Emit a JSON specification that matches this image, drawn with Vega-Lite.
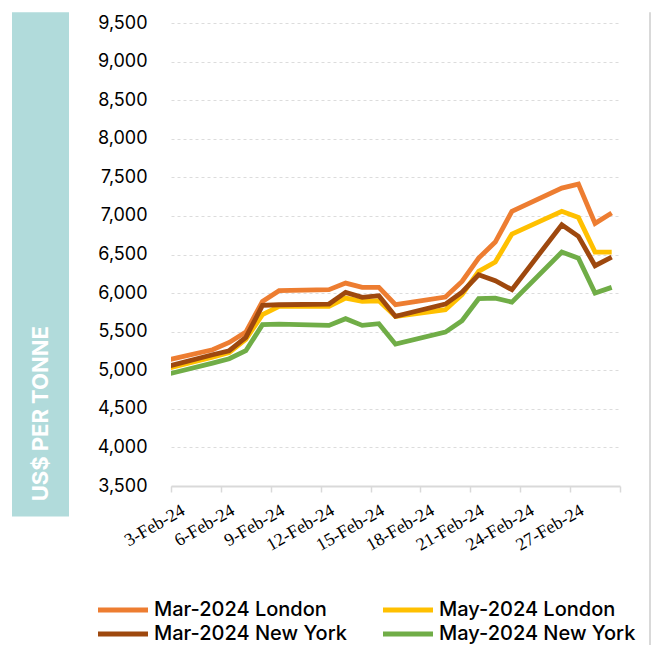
{
  "$schema": "https://vega.github.io/schema/vega-lite/v6.json",
  "padding": {"left": 12, "top": 11, "right": 0, "bottom": 0},
  "background": "white",
  "config": {"view": {"stroke": null}, "font": "Inter"},
  "datasets": {
    "prices": [
      {"date": "2024-02-02", "series": "Mar-2024 London", "price": 5119},
      {"date": "2024-02-05", "series": "Mar-2024 London", "price": 5266},
      {"date": "2024-02-06", "series": "Mar-2024 London", "price": 5360},
      {"date": "2024-02-07", "series": "Mar-2024 London", "price": 5494},
      {"date": "2024-02-08", "series": "Mar-2024 London", "price": 5892},
      {"date": "2024-02-09", "series": "Mar-2024 London", "price": 6031},
      {"date": "2024-02-12", "series": "Mar-2024 London", "price": 6044},
      {"date": "2024-02-13", "series": "Mar-2024 London", "price": 6129},
      {"date": "2024-02-14", "series": "Mar-2024 London", "price": 6074},
      {"date": "2024-02-15", "series": "Mar-2024 London", "price": 6074},
      {"date": "2024-02-16", "series": "Mar-2024 London", "price": 5849},
      {"date": "2024-02-19", "series": "Mar-2024 London", "price": 5948},
      {"date": "2024-02-20", "series": "Mar-2024 London", "price": 6151},
      {"date": "2024-02-21", "series": "Mar-2024 London", "price": 6453},
      {"date": "2024-02-22", "series": "Mar-2024 London", "price": 6661},
      {"date": "2024-02-23", "series": "Mar-2024 London", "price": 7059},
      {"date": "2024-02-26", "series": "Mar-2024 London", "price": 7361},
      {"date": "2024-02-27", "series": "Mar-2024 London", "price": 7413},
      {"date": "2024-02-28", "series": "Mar-2024 London", "price": 6903},
      {"date": "2024-02-29", "series": "Mar-2024 London", "price": 7037},
      {"date": "2024-02-02", "series": "May-2024 London", "price": 5010},
      {"date": "2024-02-05", "series": "May-2024 London", "price": 5170},
      {"date": "2024-02-06", "series": "May-2024 London", "price": 5230},
      {"date": "2024-02-07", "series": "May-2024 London", "price": 5400},
      {"date": "2024-02-08", "series": "May-2024 London", "price": 5720},
      {"date": "2024-02-09", "series": "May-2024 London", "price": 5827},
      {"date": "2024-02-12", "series": "May-2024 London", "price": 5827},
      {"date": "2024-02-13", "series": "May-2024 London", "price": 5935},
      {"date": "2024-02-14", "series": "May-2024 London", "price": 5892},
      {"date": "2024-02-15", "series": "May-2024 London", "price": 5900},
      {"date": "2024-02-16", "series": "May-2024 London", "price": 5698},
      {"date": "2024-02-19", "series": "May-2024 London", "price": 5784},
      {"date": "2024-02-20", "series": "May-2024 London", "price": 5979},
      {"date": "2024-02-21", "series": "May-2024 London", "price": 6281},
      {"date": "2024-02-22", "series": "May-2024 London", "price": 6402},
      {"date": "2024-02-23", "series": "May-2024 London", "price": 6765},
      {"date": "2024-02-26", "series": "May-2024 London", "price": 7059},
      {"date": "2024-02-27", "series": "May-2024 London", "price": 6981},
      {"date": "2024-02-28", "series": "May-2024 London", "price": 6531},
      {"date": "2024-02-29", "series": "May-2024 London", "price": 6531},
      {"date": "2024-02-02", "series": "Mar-2024 New York", "price": 5035},
      {"date": "2024-02-05", "series": "Mar-2024 New York", "price": 5201},
      {"date": "2024-02-06", "series": "Mar-2024 New York", "price": 5253},
      {"date": "2024-02-07", "series": "Mar-2024 New York", "price": 5425},
      {"date": "2024-02-08", "series": "Mar-2024 New York", "price": 5840},
      {"date": "2024-02-09", "series": "Mar-2024 New York", "price": 5849},
      {"date": "2024-02-12", "series": "Mar-2024 New York", "price": 5858},
      {"date": "2024-02-13", "series": "Mar-2024 New York", "price": 6009},
      {"date": "2024-02-14", "series": "Mar-2024 New York", "price": 5944},
      {"date": "2024-02-15", "series": "Mar-2024 New York", "price": 5966},
      {"date": "2024-02-16", "series": "Mar-2024 New York", "price": 5698},
      {"date": "2024-02-19", "series": "Mar-2024 New York", "price": 5857},
      {"date": "2024-02-20", "series": "Mar-2024 New York", "price": 6013},
      {"date": "2024-02-21", "series": "Mar-2024 New York", "price": 6238},
      {"date": "2024-02-22", "series": "Mar-2024 New York", "price": 6160},
      {"date": "2024-02-23", "series": "Mar-2024 New York", "price": 6044},
      {"date": "2024-02-26", "series": "Mar-2024 New York", "price": 6886},
      {"date": "2024-02-27", "series": "Mar-2024 New York", "price": 6735},
      {"date": "2024-02-28", "series": "Mar-2024 New York", "price": 6355},
      {"date": "2024-02-29", "series": "Mar-2024 New York", "price": 6466},
      {"date": "2024-02-02", "series": "May-2024 New York", "price": 4933},
      {"date": "2024-02-05", "series": "May-2024 New York", "price": 5092},
      {"date": "2024-02-06", "series": "May-2024 New York", "price": 5149},
      {"date": "2024-02-07", "series": "May-2024 New York", "price": 5253},
      {"date": "2024-02-08", "series": "May-2024 New York", "price": 5590},
      {"date": "2024-02-09", "series": "May-2024 New York", "price": 5598},
      {"date": "2024-02-12", "series": "May-2024 New York", "price": 5581},
      {"date": "2024-02-13", "series": "May-2024 New York", "price": 5668},
      {"date": "2024-02-14", "series": "May-2024 New York", "price": 5581},
      {"date": "2024-02-15", "series": "May-2024 New York", "price": 5603},
      {"date": "2024-02-16", "series": "May-2024 New York", "price": 5338},
      {"date": "2024-02-19", "series": "May-2024 New York", "price": 5494},
      {"date": "2024-02-20", "series": "May-2024 New York", "price": 5642},
      {"date": "2024-02-21", "series": "May-2024 New York", "price": 5927},
      {"date": "2024-02-22", "series": "May-2024 New York", "price": 5935},
      {"date": "2024-02-23", "series": "May-2024 New York", "price": 5883},
      {"date": "2024-02-26", "series": "May-2024 New York", "price": 6531},
      {"date": "2024-02-27", "series": "May-2024 New York", "price": 6453},
      {"date": "2024-02-28", "series": "May-2024 New York", "price": 6000},
      {"date": "2024-02-29", "series": "May-2024 New York", "price": 6074}
    ]
  },
  "spacing": 12,
  "hconcat": [
    {
      "spacing": 28,
      "hconcat": [
        {
          "width": 57,
          "height": 463,
          "data": {"values": [{"label": "US$ PER TONNE", "top": 1.0231, "bottom": -0.0659, "textpos": -0.033}]},
          "layer": [
            {
              "mark": {"type": "rect", "color": "#b1dbdb"},
              "encoding": {
                "x": {"datum": 0, "type": "quantitative", "scale": {"domain": [0, 1]}, "axis": null},
                "x2": {"datum": 1},
                "y": {"field": "bottom", "type": "quantitative", "scale": {"domain": [0, 1]}, "axis": null},
                "y2": {"field": "top"}
              }
            },
            {
              "mark": {"type": "text", "angle": 270, "align": "left", "baseline": "middle", "color": "white", "fontSize": 22, "fontWeight": "bold", "font": "Inter"},
              "encoding": {
                "x": {"datum": 0.5, "type": "quantitative"},
                "y": {"field": "textpos", "type": "quantitative"},
                "text": {"field": "label"}
              }
            }
          ]
        },
        {
          "width": 449,
          "height": 463,
          "data": {"name": "prices"},
          "mark": {"type": "line", "strokeWidth": 4.8, "clip": true},
          "encoding": {
            "x": {
              "field": "date",
              "type": "temporal",
              "scale": {
                "type": "utc",
                "domain": [
                  {"year": 2024, "month": 2, "date": 2, "hours": 12, "utc": true},
                  {"year": 2024, "month": 2, "date": 29, "hours": 12, "utc": true}
                ]
              },
              "axis": {
                "title": null,
                "values": [
                  {"year": 2024, "month": 2, "date": 2, "hours": 12, "utc": true},
                  {"year": 2024, "month": 2, "date": 5, "hours": 12, "utc": true},
                  {"year": 2024, "month": 2, "date": 8, "hours": 12, "utc": true},
                  {"year": 2024, "month": 2, "date": 11, "hours": 12, "utc": true},
                  {"year": 2024, "month": 2, "date": 14, "hours": 12, "utc": true},
                  {"year": 2024, "month": 2, "date": 17, "hours": 12, "utc": true},
                  {"year": 2024, "month": 2, "date": 20, "hours": 12, "utc": true},
                  {"year": 2024, "month": 2, "date": 23, "hours": 12, "utc": true},
                  {"year": 2024, "month": 2, "date": 26, "hours": 12, "utc": true},
                  {"year": 2024, "month": 2, "date": 29, "hours": 12, "utc": true}
                ],
                "labelExpr": "datum.index < 0.99 ? utcFormat(datum.value + 43200000, '%-d-%b-%y') : ''",
                "labelAngle": -30,
                "labelAlign": "right",
                "labelBaseline": "middle",
                "labelFont": "Liberation Serif",
                "labelFontSize": 18,
                "labelColor": "black",
                "labelFlush": false,
                "labelOverlap": false,
                "labelBound": false,
                "labelOffset": 12,
                "labelPadding": 17,
                "domainColor": "#d9d9d9",
                "domainWidth": 2,
                "tickColor": "#d9d9d9",
                "tickWidth": 1.5,
                "tickSize": 6,
                "grid": false
              }
            },
            "y": {
              "field": "price",
              "type": "quantitative",
              "scale": {"domain": [3500, 9500], "nice": false, "zero": false},
              "axis": {
                "title": null,
                "values": [3500, 4000, 4500, 5000, 5500, 6000, 6500, 7000, 7500, 8000, 8500, 9000, 9500],
                "format": ",.0f",
                "labelFont": "Inter",
                "labelFontSize": 18,
                "labelColor": "black",
                "labelPadding": 24,
                "domain": false,
                "ticks": false,
                "grid": true,
                "gridColor": "#dcdcdc",
                "gridDash": [3, 3],
                "gridWidth": 1
              }
            },
            "color": {
              "field": "series",
              "type": "nominal",
              "scale": {
                "domain": ["Mar-2024 London", "May-2024 London", "Mar-2024 New York", "May-2024 New York"],
                "range": ["#ED7D31", "#FFC000", "#9E480E", "#70AD47"]
              },
              "legend": {
                "title": null,
                "orient": "none",
                "direction": "horizontal",
                "legendX": 101,
                "legendY": 577,
                "columns": 2,
                "symbolType": "M-5,0H5",
                "symbolSize": 100,
                "symbolStrokeWidth": 5,
                "labelFont": "Inter",
                "labelFontSize": 20,
                "labelFontWeight": 500,
                "labelColor": "black",
                "labelOffset": 21,
                "labelLimit": 400,
                "columnPadding": 26,
                "rowPadding": 4
              }
            }
          }
        }
      ]
    },
    {
      "width": 2,
      "height": 463,
      "data": {"values": [{"top": 1.0231, "bottom": -0.35}]},
      "mark": {"type": "rule", "color": "#d9d9d9", "strokeWidth": 2},
      "encoding": {
        "x": {"datum": 0.5, "type": "quantitative", "scale": {"domain": [0, 1]}, "axis": null},
        "y": {"field": "bottom", "type": "quantitative", "scale": {"domain": [0, 1]}, "axis": null},
        "y2": {"field": "top"}
      }
    }
  ]
}
